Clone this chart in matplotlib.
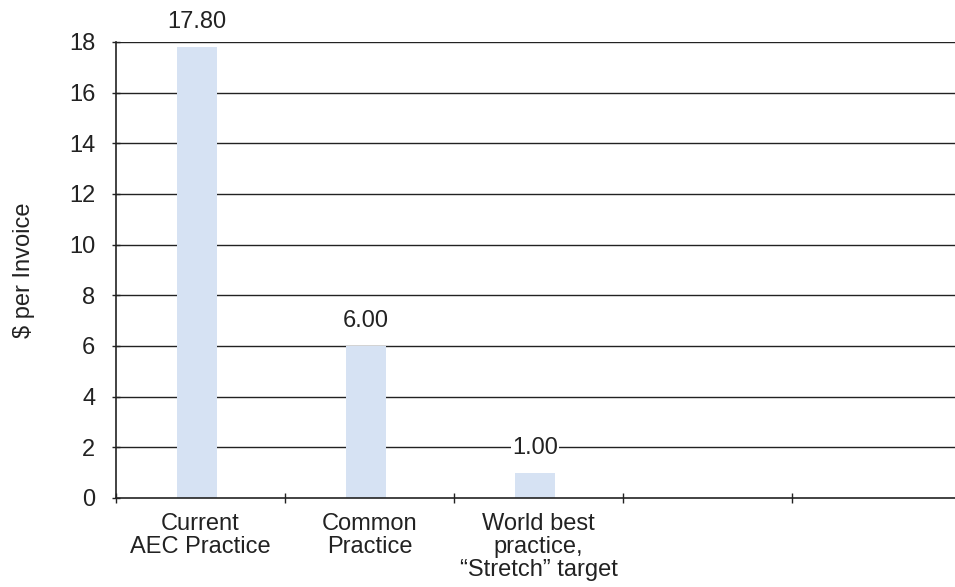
import matplotlib
matplotlib.use("Agg")
import matplotlib.pyplot as plt
import numpy as np

plt.rcParams['font.family'] = ['Liberation Sans', 'DejaVu Sans']

categories = ["Current\nAEC Practice", "Common\nPractice",
              "World best\npractice,\n\u201cStretch\u201d target", "", ""]
values = [17.80, 6.00, 1.00]
y_ticks = [0, 2, 4, 6, 8, 10, 12, 14, 16, 18]

FS = 17
INK = "#222222"

fig = plt.figure(figsize=(9.55, 5.87), dpi=100)
ax = fig.add_axes([116 / 955, 89 / 587, 845 / 955, 456 / 587])

n_slots = len(categories)
ax.set_xlim(0, n_slots)
ax.set_ylim(0, 18)

centers = np.arange(len(values)) + 0.48
ax.bar(centers, values, width=0.235, color="#D6E2F3", zorder=2)

for x, v in zip(centers, values):
    ax.annotate(f"{v:.2f}", (x, v), xytext=(0, 10), textcoords="offset points",
                ha="center", va="bottom", fontsize=FS, color=INK,
                bbox=dict(boxstyle="square,pad=0.05", fc="white", ec="none"),
                zorder=4, annotation_clip=False)

# horizontal gridlines
for t in y_ticks[1:]:
    ax.axhline(t, color=INK, lw=1.0, zorder=1)

ax.set_yticks(y_ticks)
ax.set_yticklabels([str(t) for t in y_ticks], fontsize=FS, color=INK)
ax.tick_params(axis="y", direction="inout", length=6, width=1, color=INK, pad=12)

# slot boundaries as major ticks, category names on minor ticks
ax.set_xticks(np.arange(n_slots + 1))
ax.set_xticklabels([])
ax.set_xticks(np.arange(n_slots) + 0.5, minor=True)
ax.set_xticklabels(categories, minor=True, fontsize=FS, color=INK,
                   linespacing=1.06)
ax.tick_params(axis="x", which="major", direction="inout", length=7, width=1,
               color=INK)
ax.tick_params(axis="x", which="minor", length=0, pad=11)

for side in ("top", "right"):
    ax.spines[side].set_visible(False)
for side in ("left", "bottom"):
    ax.spines[side].set_color(INK)
    ax.spines[side].set_linewidth(1.2)

ax.set_ylabel("$ per Invoice", fontsize=FS, color=INK, labelpad=24)

fig.savefig("out.png", dpi=100, facecolor="white")
